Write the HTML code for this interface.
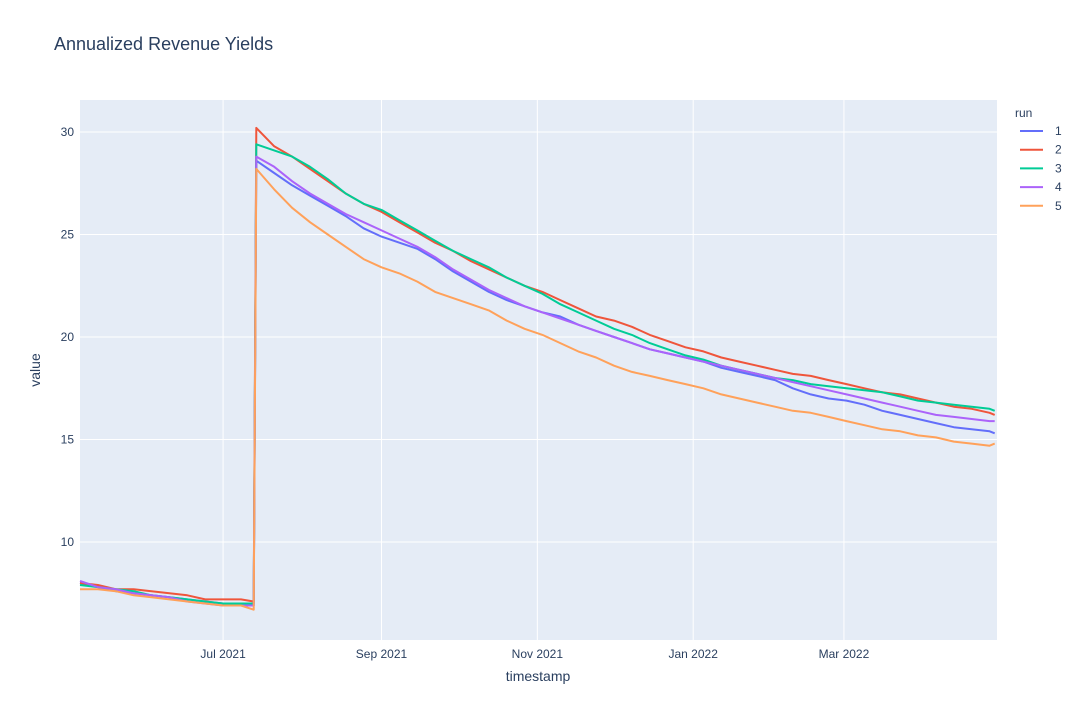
<!DOCTYPE html>
<html><head><meta charset="utf-8"><style>
body{margin:0;background:#fff;font-family:"Liberation Sans",Arial,sans-serif}
text{font-family:"Liberation Sans",Arial,sans-serif;fill:#2a3f5f}
</style></head><body>
<svg id="chart" width="1080" height="720" xmlns="http://www.w3.org/2000/svg">
<rect width="1080" height="720" fill="#fff"/>
<text x="54" y="50" font-size="18">Annualized Revenue Yields</text>
<rect x="80" y="100" width="917" height="540" fill="#e5ecf6"/>
<g id="grid"></g><g id="series"></g><g id="ticks"></g>
<text x="538" y="681" font-size="14" text-anchor="middle">timestamp</text>
<text x="40" y="370" font-size="14" text-anchor="middle" transform="rotate(-90 40 370)">value</text>
<g id="legend"><text x="1015" y="117" font-size="12">run</text></g>
</svg>
<script>
const preDays=[0,7,14,21,28,35,42,49,56,63,68];
const postDays=[69,76,83,90,97,104,111,118,125,132,139,146,153,160,167,174,181,188,195,202,209,216,223,230,237,244,251,258,265,272,279,286,293,300,307,314,321,328,335,342,349,356,358];
const runNames=["1","2","3","4","5"];
const colors=["#636efa","#EF553B","#00cc96","#ab63fa","#FFA15A"];
const pre1=[8.0,7.8,7.6,7.5,7.4,7.3,7.2,7.1,7.0,6.9,6.9];
const pre2=[8.0,7.9,7.7,7.7,7.6,7.5,7.4,7.2,7.2,7.2,7.1];
const pre3=[7.9,7.8,7.7,7.6,7.4,7.3,7.2,7.1,7.0,7.0,7.0];
const pre4=[8.1,7.8,7.7,7.5,7.4,7.3,7.1,7.0,6.9,6.9,6.9];
const pre5=[7.7,7.7,7.6,7.4,7.3,7.2,7.1,7.0,6.9,6.9,6.7];
const post1=[28.6,28.0,27.4,26.9,26.4,25.9,25.3,24.9,24.6,24.3,23.8,23.2,22.7,22.2,21.8,21.5,21.2,21.0,20.6,20.3,20.0,19.7,19.4,19.2,19.0,18.8,18.5,18.3,18.1,17.9,17.5,17.2,17.0,16.9,16.7,16.4,16.2,16.0,15.8,15.6,15.5,15.4,15.3];
const post2=[30.2,29.3,28.8,28.2,27.6,27.0,26.5,26.1,25.6,25.1,24.6,24.2,23.7,23.3,22.9,22.5,22.2,21.8,21.4,21.0,20.8,20.5,20.1,19.8,19.5,19.3,19.0,18.8,18.6,18.4,18.2,18.1,17.9,17.7,17.5,17.3,17.2,17.0,16.8,16.6,16.5,16.3,16.2];
const post3=[29.4,29.1,28.8,28.3,27.7,27.0,26.5,26.2,25.7,25.2,24.7,24.2,23.8,23.4,22.9,22.5,22.1,21.6,21.2,20.8,20.4,20.1,19.7,19.4,19.1,18.9,18.6,18.4,18.2,18.0,17.9,17.7,17.6,17.5,17.4,17.3,17.1,16.9,16.8,16.7,16.6,16.5,16.4];
const post4=[28.8,28.3,27.6,27.0,26.5,26.0,25.6,25.2,24.8,24.4,23.9,23.3,22.8,22.3,21.9,21.5,21.2,20.9,20.6,20.3,20.0,19.7,19.4,19.2,19.0,18.8,18.6,18.4,18.2,18.0,17.8,17.6,17.4,17.2,17.0,16.8,16.6,16.4,16.2,16.1,16.0,15.9,15.9];
const post5=[28.2,27.2,26.3,25.6,25.0,24.4,23.8,23.4,23.1,22.7,22.2,21.9,21.6,21.3,20.8,20.4,20.1,19.7,19.3,19.0,18.6,18.3,18.1,17.9,17.7,17.5,17.2,17.0,16.8,16.6,16.4,16.3,16.1,15.9,15.7,15.5,15.4,15.2,15.1,14.9,14.8,14.7,14.8];
const yTicks=[10,15,20,25,30];
const xTickLabels=["Jul 2021","Sep 2021","Nov 2021","Jan 2022","Mar 2022"];
const xTickDays=[56,118,179,240,299];
const pres=[pre1,pre2,pre3,pre4,pre5], posts=[post1,post2,post3,post4,post5];
const NS="http://www.w3.org/2000/svg";
const X=d=>80+d*2.555;
const Y=v=>132+(30-v)*20.5;
function mk(tag,attrs,parent){const e=document.createElementNS(NS,tag);for(const k in attrs)e.setAttribute(k,attrs[k]);parent.appendChild(e);return e;}
const grid=document.getElementById('grid'),ticks=document.getElementById('ticks'),ser=document.getElementById('series'),leg=document.getElementById('legend');
yTicks.forEach(v=>{
  const l=mk('line',{x1:80,x2:997,y1:Y(v),y2:Y(v),stroke:'#fff','stroke-width':1},grid);
  
  
  const t=mk('text',{x:74,y:Y(v)+4,'font-size':12,'text-anchor':'end'},ticks);t.textContent=v;
  
  
});
xTickDays.forEach((d,i)=>{
  const l=mk('line',{x1:X(d),x2:X(d),y1:100,y2:640,stroke:'#fff','stroke-width':1},grid);
  
  
  const t=mk('text',{x:X(d),y:658,'font-size':12,'text-anchor':'middle'},ticks);t.textContent=xTickLabels[i];
  
  
});
runNames.forEach((n,i)=>{
  const pts=[];
  preDays.forEach((d,j)=>pts.push(X(d).toFixed(1)+','+Y(pres[i][j]).toFixed(1)));
  postDays.forEach((d,j)=>pts.push(X(d).toFixed(1)+','+Y(posts[i][j]).toFixed(1)));
  const p=mk('polyline',{points:pts.join(' '),fill:'none',stroke:colors[i],'stroke-width':2,'stroke-linejoin':'round'},ser);
  
  
  const y=131+i*18.7;
  const g=mk('g',{},leg);
  
  
  mk('line',{x1:1020,x2:1043,y1:y,y2:y,stroke:colors[i],'stroke-width':2},g);
  const t=mk('text',{x:1055,y:y+4,'font-size':12},g);t.textContent=n;
});
</script>
</body></html>
